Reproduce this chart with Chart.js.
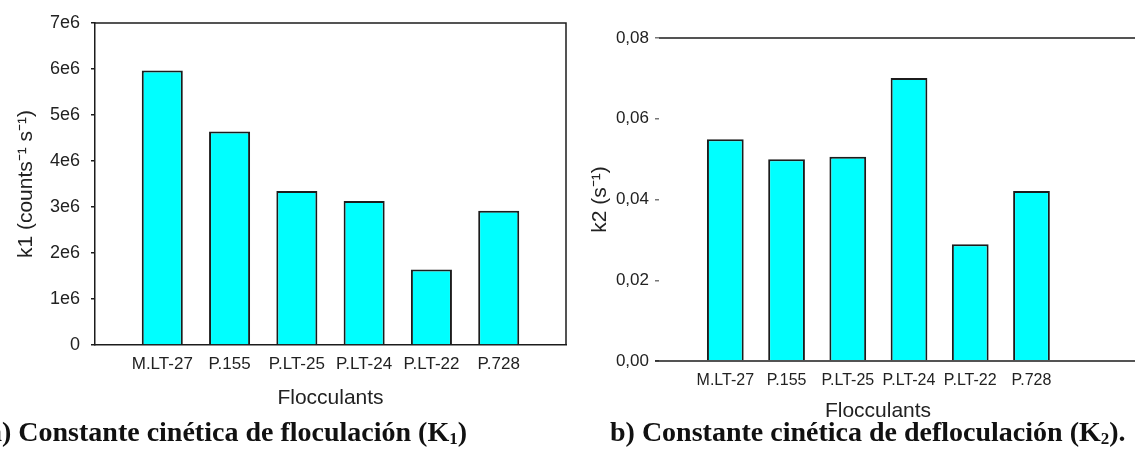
<!DOCTYPE html>
<html>
<head>
<meta charset="utf-8">
<script src="https://cdn.jsdelivr.net/npm/chart.js@4.4.0/dist/chart.umd.min.js"></script>
<style>
  body { margin: 0; background: #fff; width: 1135px; height: 449px; overflow: hidden; position: relative; }
  canvas { position: absolute; top: 0; }
  #k1-chart { left: 0; }
  #k2-chart { left: 575px; }
  .caption {
    position: absolute;
    top: 416px;
    font-family: 'Liberation Serif', 'Times New Roman', serif;
    font-weight: bold;
    font-size: 28px;
    line-height: 32px;
    color: #111;
    white-space: nowrap;
  }
  .caption sub { font-size: 17px; vertical-align: -3px; }
</style>
</head>
<body>
<canvas id="k1-chart" width="575" height="420"></canvas>
<canvas id="k2-chart" width="560" height="420"></canvas>
<div class="caption" style="left:-12px">a) Constante cinética de floculación (K<sub>1</sub>)</div>
<div class="caption" style="left:610px">b) Constante cinética de defloculación (K<sub>2</sub>).</div>
<script>
// Data
const flocculants = ['M.LT-27', 'P.155', 'P.LT-25', 'P.LT-24', 'P.LT-22', 'P.728'];
const k1Values = [5.97e6, 4.64e6, 3.35e6, 3.13e6, 1.64e6, 2.92e6];
const k2Values = [0.0549, 0.0500, 0.0506, 0.0701, 0.0289, 0.0421];

// Tick labels
const k1TickValues = [0, 1e6, 2e6, 3e6, 4e6, 5e6, 6e6, 7e6];
const k1TickLabels = ['0', '1e6', '2e6', '3e6', '4e6', '5e6', '6e6', '7e6'];
const k2TickValues = [0, 0.02, 0.04, 0.06, 0.08];
const k2TickLabels = ['0,00', '0,02', '0,04', '0,06', '0,08'];

const LINE = '#1c1c1c';
const FONT = "'Liberation Sans', Arial, sans-serif";

// Draws the frame lines that are not axes
const framePlugin = {
    id: 'frame',
    afterDatasetsDraw(chart, args, opts) {
        const { ctx, chartArea } = chart;
        const right = opts.toEdge ? chart.width : chartArea.right;
        ctx.save();
        ctx.strokeStyle = LINE;
        ctx.lineWidth = 1.5;
        ctx.beginPath();
        ctx.moveTo(chartArea.left, chartArea.top);
        ctx.lineTo(right, chartArea.top);
        if (opts.rightSide) {
            ctx.lineTo(right, chartArea.bottom);
        }
        if (opts.bottom) {
            ctx.moveTo(chartArea.left - 4, chartArea.bottom);
            ctx.lineTo(right, chartArea.bottom);
        }
        ctx.stroke();
        ctx.restore();
    }
};

function barData(values) {
    return flocculants.map((name, i) => ({ x: i + 1, y: values[i] }));
}

function makeChart(id, cfg) {
    const ctx = document.getElementById(id).getContext('2d');
    return new Chart(ctx, {
        type: 'bar',
        data: {
            datasets: [{
                data: barData(cfg.values),
                backgroundColor: '#00ffff',
                borderColor: LINE,
                borderWidth: 2,
                borderSkipped: 'bottom',
                categoryPercentage: 1,
                barPercentage: cfg.barPct
            }]
        },
        plugins: [framePlugin],
        options: {
            responsive: false,
            animation: false,
            layout: { padding: cfg.padding },
            plugins: {
                legend: { display: false },
                tooltip: { enabled: false },
                frame: cfg.frame
            },
            scales: {
                x: {
                    type: 'linear',
                    offset: false,
                    min: cfg.xMin,
                    max: cfg.xMax,
                    afterBuildTicks: s => { s.ticks = flocculants.map((n, i) => ({ value: i + 1 })); },
                    afterFit: s => { s.height = cfg.xHeight; },
                    grid: { display: false, drawTicks: false, tickLength: 0 },
                    border: { display: cfg.xBorder, color: LINE, width: 1.5 },
                    ticks: {
                        autoSkip: false,
                        maxRotation: 0,
                        padding: cfg.xTickPad,
                        color: '#222',
                        font: { family: FONT, size: cfg.xTickSize },
                        callback: v => flocculants[v - 1] || ''
                    },
                    title: {
                        display: true,
                        text: 'Flocculants',
                        color: '#222',
                        font: { family: FONT, size: 21 },
                        padding: { top: 0, bottom: cfg.xTitlePad }
                    }
                },
                y: {
                    min: cfg.yTicks[0],
                    max: cfg.yTicks[cfg.yTicks.length - 1],
                    afterBuildTicks: s => { s.ticks = cfg.yTicks.map(v => ({ value: v })); },
                    afterFit: s => { s.width = cfg.yWidth; },
                    grid: {
                        drawOnChartArea: false,
                        drawTicks: true,
                        tickLength: 4,
                        color: cfg.tickColor,
                        lineWidth: 1.5
                    },
                    border: { display: cfg.yBorder, color: LINE, width: 1.5 },
                    ticks: {
                        padding: cfg.yTickPad,
                        color: '#222',
                        font: { family: FONT, size: cfg.yTickSize },
                        callback: (v, i) => cfg.yLabels[i]
                    },
                    title: {
                        display: true,
                        text: cfg.yTitle,
                        color: '#222',
                        font: { family: FONT, size: 21 },
                        padding: { top: cfg.yTitlePad, bottom: 0 }
                    }
                }
            }
        }
    });
}

makeChart('k1-chart', {
    values: k1Values,
    yTicks: k1TickValues,
    yLabels: k1TickLabels,
    yTitle: 'k1 (counts\u207B\u00B9 s\u207B\u00B9)',
    barPct: 0.61,
    padding: { top: 23, right: 9, left: 0, bottom: 0 },
    xMin: 0, xMax: 7,
    xHeight: 75, yWidth: 95,
    xTickPad: 9, xTickSize: 17, xTitlePad: 9, yTitlePad: 14,
    yTickSize: 18, yTickPad: 11,
    xBorder: true, yBorder: true, tickColor: LINE,
    frame: { rightSide: true, bottom: false, toEdge: false }
});

makeChart('k2-chart', {
    values: k2Values,
    yTicks: k2TickValues,
    yLabels: k2TickLabels,
    yTitle: 'k2 (s\u207B\u00B9)',
    barPct: 0.6,
    padding: { top: 38, right: 38, left: 0, bottom: 0 },
    xMin: -0.083, xMax: 7.07,
    xHeight: 59, yWidth: 84,
    xTickPad: 10, xTickSize: 16, xTitlePad: -4, yTitlePad: 13,
    yTickSize: 17, yTickPad: 6,
    xBorder: false, yBorder: false, tickColor: '#777',
    frame: { rightSide: false, bottom: true, toEdge: true }
});
</script>
</body>
</html>
